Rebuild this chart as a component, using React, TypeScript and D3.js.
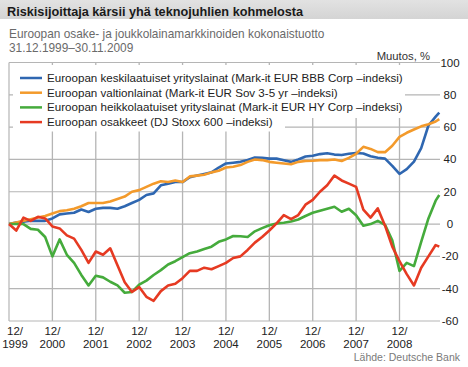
import * as d3 from "d3"

// months counted from 12/1999 (0) to 11/2009 (119)
const months = [
  0, 2, 4, 6, 8, 10, 12, 14, 16, 18, 20, 22, 24, 26, 28, 30, 32, 34, 36, 38,
  40, 42, 44, 46, 48, 50, 52, 54, 56, 58, 60, 62, 64, 66, 68, 70, 72, 74, 76, 78,
  80, 82, 84, 86, 88, 90, 92, 94, 96, 98, 100, 102, 104, 106, 108, 110, 112, 114, 116, 118, 119,
]

const bbb = [
  0, 1, 1.5, 2, 2, 2, 3.5, 6, 6.5, 7, 9, 7.5, 9.5, 10, 10, 9.5, 11, 13, 15, 18,
  19, 24, 25, 26, 26, 29, 30, 31, 32, 35, 37.5, 38, 38.5, 39.6, 41.2, 41, 40.5, 40.5, 39.5, 38.5,
  40, 41.8, 42.3, 43.3, 43.8, 43, 42.7, 43.5, 44, 43.7, 42, 41, 40.5, 36, 31, 34, 38.7, 47, 61, 66.5, 69,
]

const sov = [
  0, 1, 2, 3, 4, 5, 6.5, 8, 8.5, 9.5, 11, 13, 13, 13, 14, 15.5, 17, 20, 21, 23,
  25, 26.5, 26, 27, 26, 29.5, 30, 30.5, 32, 33, 35, 35.5, 36.5, 38.5, 40, 39.6, 38.5, 38, 37.5, 37,
  38.5, 39, 39.2, 39.6, 39.6, 40, 39, 41, 43.5, 47.8, 46.5, 44.5, 44.5, 48.5, 54, 56.5, 58.5, 60.5, 61.8, 63.5, 65,
]

const hy = [
  0, 0, 0, -3, -3.5, -8, -20, -9.5, -19, -24, -31.5, -38, -32, -33, -35.7, -38, -42.5, -42, -37.5, -35,
  -31.5, -28.5, -25, -23, -20.5, -18, -17, -15.5, -14, -11, -9.5, -7.4, -7.5, -8, -4.5, -2.5, -0.7, 0.4, 0.8, 1.6,
  2.8, 5, 7, 8.3, 9.5, 10.7, 7.6, 9.5, 5.5, -1, 0, 2, -0.5, -10, -29, -24, -26, -11, 3.5, 14.5, 18,
]

const stoxx = [
  0, -4, 4, 2, 4.5, 3.5, -1.5, -2.7, -7, -9, -16, -24, -17, -19, -15, -25.5, -36, -42, -39, -45,
  -47.5, -41.5, -38, -37, -33.5, -29, -29, -27, -28, -26, -24, -21, -20, -16, -11.5, -8, -4, 0.4, 5.5, 3,
  5.6, 12, 15, 20, 24, 30, 27, 25, 23, 9, 4, 9.7, -1, -14, -23, -31, -38, -27, -20, -13, -14,
]

const seriesNames = [
  "Euroopan keskilaatuiset yrityslainat (Mark-it EUR BBB Corp –indeksi)",
  "Euroopan valtionlainat (Mark-it EUR Sov 3-5 yr –indeksi)",
  "Euroopan heikkolaatuiset yrityslainat (Mark-it EUR HY Corp –indeksi)",
  "Euroopan osakkeet (DJ Stoxx 600 –indeksi)",
]
const seriesColors = ["#2f67b1", "#f39a2b", "#45ab3c", "#e63a22"]
const seriesValues = [bbb, sov, hy, stoxx]

const yearLabels = ["1999", "2000", "2001", "2002", "2003", "2004", "2005", "2006", "2007", "2008"]
const valueTicks = [-60, -40, -20, 0, 20, 40, 60, 80, 100]

const W = 468
const H = 367
const font = "'Liberation Sans', Arial, sans-serif"
const gridColor = "#b5b5b5"

export default function App() {
  const x = d3.scaleLinear().domain([0, 119.2]).range([9, 440])
  const y = d3.scaleLinear().domain([-60, 100]).range([321, 62.5])
  const [yMin, yMax] = y.domain()

  const line = d3
    .line<number>()
    .x((_, i) => x(months[i]))
    .y((d) => y(d))

  return (
    <svg
      width={W}
      height={H}
      style={{ position: "absolute", left: 0, top: 0, background: "#fff" }}
      fontFamily={font}
    >
      <defs>
        <linearGradient id="band" x1="0" y1="0" x2="0" y2="1">
          <stop offset="0%" stopColor="#e2e2e2" />
          <stop offset="100%" stopColor="#d4d4d4" />
        </linearGradient>
      </defs>
      <rect x={0} y={0} width={W} height={19} fill="url(#band)" />
      <text x={7} y={16} fontSize={12.7} fontWeight="bold" fill="#1a1a1a">
        Riskisijoittaja kärsii yhä teknojuhlien kohmelosta
      </text>
      <text x={9} y={38} fontSize={11.85} fill="#6a6a6a">
        Euroopan osake- ja joukkolainamarkkinoiden kokonaistuotto
      </text>
      <text x={9} y={52} fontSize={11.85} fill="#6a6a6a">
        31.12.1999–30.11.2009
      </text>
      <text x={430} y={60} fontSize={11.3} fill="#333" textAnchor="end">
        Muutos, %
      </text>

      {/* grid */}
      {yearLabels.map((_, i) => (
        <line
          key={"v" + i}
          x1={x(i * 12)}
          x2={x(i * 12)}
          y1={y(yMax)}
          y2={y(yMin)}
          stroke={gridColor}
          strokeWidth={i === 0 ? 1.2 : 1.3}
        />
      ))}
      {valueTicks.map((v) => (
        <g key={"h" + v}>
          <line x1={x(0)} x2={440} y1={y(v)} y2={y(v)} stroke={gridColor} strokeWidth={1.2} />
          <text x={450} y={y(v) + 4} fontSize={11.5} fill="#222" textAnchor="middle">
            {v}
          </text>
        </g>
      ))}

      {/* legend background covers the grid */}
      <rect x={13} y={65} width={392} height={53} fill="#fff" />
      <rect x={13} y={118} width={272} height={13.5} fill="#fff" />
      {seriesNames.map((name, i) => {
        const by = 82 + i * 14.7
        return (
          <g key={name}>
            <line x1={20} x2={42} y1={by - 4} y2={by - 4} stroke={seriesColors[i]} strokeWidth={2.5} />
            <text x={47} y={by} fontSize={11.6} fill="#222">
              {name}
            </text>
          </g>
        )
      })}

      {/* series */}
      {seriesValues.map((vals, i) => (
        <path
          key={"s" + i}
          d={line(vals) ?? ""}
          fill="none"
          stroke={seriesColors[i]}
          strokeWidth={2.6}
          strokeLinejoin="round"
        />
      ))}

      {/* x labels */}
      {yearLabels.map((yr, i) => {
        const cx = Math.max(x(i * 12), 15)
        return (
          <text key={yr} x={cx} fontSize={11.5} fill="#222" textAnchor="middle">
            <tspan x={cx} y={335}>
              12/
            </tspan>
            <tspan x={cx} y={348}>
              {yr}
            </tspan>
          </text>
        )
      })}

      <text x={460} y={361} fontSize={10.5} fill="#7a7a7a" textAnchor="end">
        Lähde: Deutsche Bank
      </text>
    </svg>
  )
}
